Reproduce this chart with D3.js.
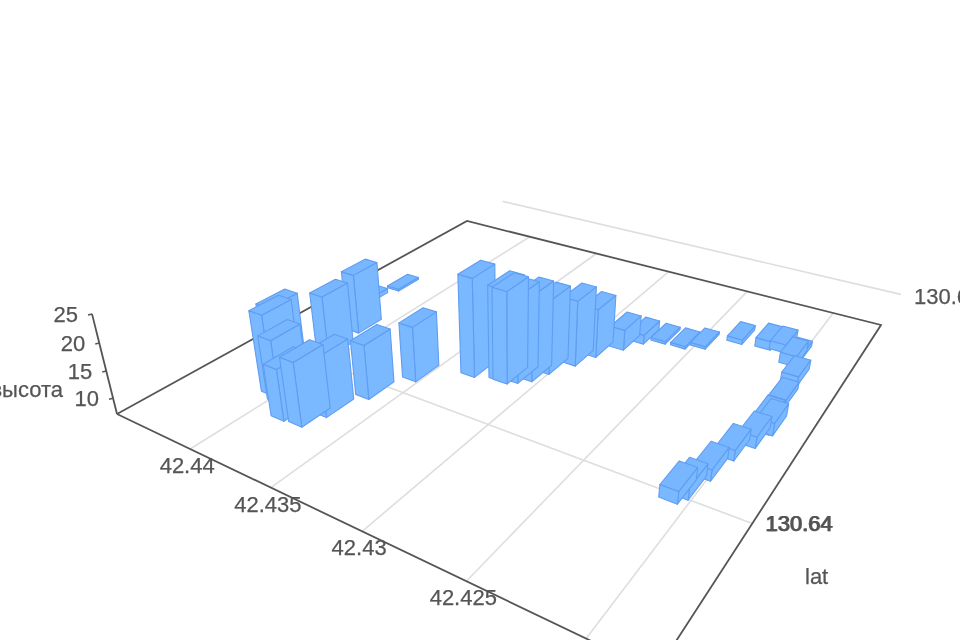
<!DOCTYPE html>
<html><head><meta charset="utf-8"><style>html,body{margin:0;background:#fff;overflow:hidden}svg{display:block;filter:blur(.6px)}text{font-family:"Liberation Sans",Arial,sans-serif;font-size:22px;fill:#555;stroke:#555;stroke-width:.25px}</style>
<script src="https://cdnjs.cloudflare.com/ajax/libs/d3/7.8.5/d3.min.js"></script></head><body>
<svg id="c" width="960" height="640"></svg>
<script>
const barLat=[42.43746,42.43705,42.43850,42.43969,42.44046,42.44092,42.44079,42.44119,42.43641,42.43551,42.44302,42.44261,42.43331,42.43187,42.43161,42.43120,42.43070,42.43035,42.42965,42.42919,42.42834,42.42775,42.42679,42.42569,42.42481,42.42339,42.42193,42.42120,42.42026,42.42031,42.41963,42.41951,42.41919,42.41935,42.41950,42.41995,42.42024,42.42052,42.42078];
const barLng=[130.63677,130.63777,130.63669,130.63746,130.63775,130.63846,130.64127,130.64360,130.63965,130.64172,130.64590,130.64790,130.64332,130.64364,130.64362,130.64390,130.64432,130.64520,130.64638,130.64749,130.64869,130.64964,130.65016,130.65023,130.65070,130.65196,130.65214,130.65226,130.65189,130.65135,130.64990,130.64814,130.64597,130.64594,130.64485,130.64370,130.64214,130.64075,130.64036];
const barHeight=[18.7,18.2,16.5,18.8,22.0,21.5,18.8,18.7,17.1,17.4,7.9,7.4,25.5,24.3,24.2,23.2,23.1,21.0,19.5,16.4,11.0,8.8,7.5,7.5,7.5,7.9,8.7,8.6,8.0,9.0,8.8,8.3,9.3,9.8,9.1,8.9,9.0,9.2,9.2];
const latTicks=[42.44,42.435,42.43,42.425,42.42];
const latLabels=["42.44","42.435","42.43","42.425"];
const lngTicks=[130.64,130.66];
const lngLabels=["130.64","130.64","130.66"];
const heightTicks=[10,15,20,25];
const axisName="lat", heightName="высота";

// Camera: homography of the floor square + vertical vanishing point
const latScale=d3.scaleLinear().domain([42.4451,42.4174]).range([0,1]);
const lngScale=d3.scaleLinear().domain([130.6327,130.6563]).range([0,1]);
const heightScale=d3.scaleLinear().domain([7,25]).range([0,18]);
const [ax,ay,dx_,dy_,cx,cy,bx,by]=[117,414,656,672,881,325,467,221];
const sx=ax-dx_+cx-bx,sy=ay-dy_+cy-by,d1x=dx_-cx,d2x=bx-cx,d1y=dy_-cy,d2y=by-cy;
const den=d1x*d2y-d2x*d1y,g=(sx*d2y-d2x*sy)/den,h=(d1x*sy-sx*d1y)/den;
const m=[dx_-ax+g*dx_,bx-ax+h*bx,ax,dy_-ay+g*dy_,by-ay+h*by,ay];
const zk=-.00331,vzx=512,vzy=1994;
function project(u,v,z){const w=g*u+h*v+1+z*zk;
  return [(m[0]*u+m[1]*v+m[2]+z*zk*vzx)/w,(m[3]*u+m[4]*v+m[5]+z*zk*vzy)/w];}
const du=.030,dv=.067;
const line=d3.line();
const svg=d3.select('#c');
const segs=(p,q)=>line([p,q]);

const grid=svg.append('g').attr('fill','none').attr('stroke','#dedede').attr('stroke-width',1.6);
grid.selectAll('path.a').data(latTicks).join('path').attr('class','a').attr('d',t=>segs(project(latScale(t),0,0),project(latScale(t),1,0)));
grid.selectAll('path.b').data(lngTicks).join('path').attr('class','b').attr('d',t=>segs(project(0,lngScale(t),0),project(1,lngScale(t),0)));

const frame=[[0,0],[1,0],[1,1],[0,1],[0,0]].map(p=>project(p[0],p[1],0));
svg.append('path').attr('fill','none').attr('stroke','#555').attr('stroke-width',1.8).attr('d',line(frame));
const z1=heightScale.domain()[1];
svg.append('path').attr('fill','none').attr('stroke','#555').attr('stroke-width',1.8).attr('d',segs(project(0,0,0),project(0,0,heightScale(z1))));
svg.selectAll('path.t').data(heightTicks).join('path').attr('class','t').attr('fill','none').attr('stroke','#555').attr('stroke-width',1.5)
  .attr('d',t=>{const p=project(0,0,heightScale(t));return segs(p,[p[0]-4,p[1]+1]);});

// bars, back to front
const bars=barLat.map((la,i)=>({u:latScale(la),v:lngScale(barLng[i]),z:heightScale(barHeight[i])}));
bars.forEach(b=>{b.depth=project(b.u,b.v,0)[1];});
bars.sort((p,q)=>p.depth-q.depth);
const gb=svg.selectAll('g.bar').data(bars).join('g').attr('class','bar')
  .attr('fill','#7ab8ff').attr('stroke','#5f9df2').attr('stroke-width',1.1).attr('stroke-linejoin','round');
const corner=(b,su,sv,z)=>project(b.u+su*du/2,b.v+sv*dv/2,z);
gb.append('path').attr('d',b=>line([corner(b,1,-1,0),corner(b,1,1,0),corner(b,1,1,b.z),corner(b,1,-1,b.z)])+'Z');
gb.append('path').attr('d',b=>line([corner(b,-1,-1,0),corner(b,1,-1,0),corner(b,1,-1,b.z),corner(b,-1,-1,b.z)])+'Z');
gb.append('path').attr('fill','#78b6ff').attr('d',b=>line([corner(b,-1,-1,b.z),corner(b,1,-1,b.z),corner(b,1,1,b.z),corner(b,-1,1,b.z)])+'Z');

// labels
svg.selectAll('text.la').data(latLabels).join('text').attr('class','la').attr('text-anchor','middle')
  .attr('x',s=>project(latScale(+s),0,0)[0]-3).attr('y',s=>project(latScale(+s),0,0)[1]+24).text(s=>s);
svg.selectAll('text.z').data(heightTicks).join('text').attr('class','z').attr('text-anchor','end')
  .attr('x',t=>project(0,0,heightScale(t))[0]-14).attr('y',t=>project(0,0,heightScale(t))[1]+8).text(t=>t);
svg.append('text').attr('text-anchor','end').attr('x',63).attr('y',397).text(heightName);
svg.append('text').attr('x',765).attr('y',531).text(lngLabels[0]);
svg.append('text').attr('x',766).attr('y',531).text(lngLabels[1]);
svg.append('text').attr('x',914).attr('y',304).text(lngLabels[2]);
svg.append('text').attr('x',805).attr('y',584).text(axisName);
</script></body></html>
